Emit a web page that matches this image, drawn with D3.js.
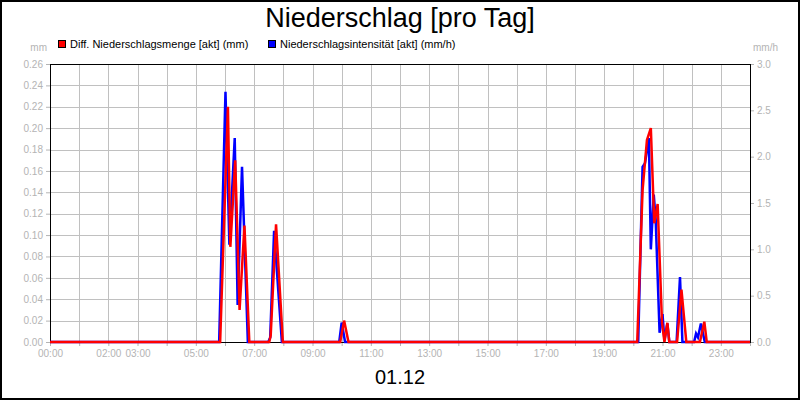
<!DOCTYPE html>
<html>
<head>
<meta charset="utf-8">
<script src="https://cdn.jsdelivr.net/npm/d3@7"></script>
<style>
  body { margin: 0; background: #fff; }
  svg { display: block; font-family: "Liberation Sans", Arial, sans-serif; }
</style>
</head>
<body>
<svg id="chart" width="800" height="400"></svg>
<script>
// Niederschlagsintensität (mm/h), right axis
const blueTimes = ["00:00","05:48","06:01","06:09","06:20","06:26","06:35","06:47",
    "07:29","07:33","07:41","07:57","09:55","10:00","10:07",
    "20:10","20:19","20:24","20:32","20:36","20:42","20:46","20:54","21:00","21:04","21:10","21:14",
    "21:29","21:36","21:41","22:05","22:09","22:13","22:19","22:27","24:00"];
const blueValues = [0,0,2.70,1.05,2.20,0.40,1.89,0,
    0,0.05,1.20,0,0,0.21,0,
    0,1.89,1.93,2.20,1.00,1.59,1.32,0.10,0.30,0.02,0.20,0,
    0,0.70,0,0,0.09,0.05,0.20,0,0];

// Diff. Niederschlagsmenge (mm), left axis
const redTimes = ["00:00","05:50","06:06","06:11","06:21","06:30","06:40","06:50",
    "07:31","07:34","07:45","07:59","09:57","10:05","10:14",
    "20:08","20:19","20:28","20:36","20:43","20:50","20:59","21:04","21:10","21:14",
    "21:30","21:39","21:49","22:17","22:26","22:31","24:00"];
const redValues = [0,0,0.22,0.089,0.17,0.03,0.109,0,
    0,0.006,0.11,0,0,0.02,0,
    0,0.142,0.189,0.20,0.111,0.129,0.018,0,0.018,0,
    0,0.049,0,0,0.019,0,0];

const xLabels = ["00:00","02:00","03:00","05:00","07:00","09:00","11:00","13:00",
    "15:00","17:00","19:00","21:00","23:00"];
const leftTicks = [0,0.02,0.04,0.06,0.08,0.10,0.12,0.14,0.16,0.18,0.20,0.22,0.24,0.26];
const rightTicks = [0,0.5,1.0,1.5,2.0,2.5,3.0];

const toMin = s => { const p = s.split(":"); return +p[0] * 60 + +p[1]; };

const svg = d3.select("#chart");
const plotLeft = 50, plotRight = 750, plotTop = 64, plotBottom = 342;
const grey = "#b4b4b4";

const x = d3.scaleLinear().domain([0, 1440]).range([plotLeft, plotRight]);
const yL = d3.scaleLinear().domain([0, 0.26]).range([plotBottom, plotTop]);
const yR = d3.scaleLinear().domain([0, 3]).range([plotBottom, plotTop]);
const crisp = v => Math.round(v) + 0.5;

svg.append("rect").attr("x", 1).attr("y", 1).attr("width", 798).attr("height", 398)
    .attr("fill", "#fff").attr("stroke", "#000").attr("stroke-width", 2);

// title
svg.append("text").attr("x", 400).attr("y", 27).attr("text-anchor", "middle")
    .attr("font-size", "27px").text("Niederschlag [pro Tag]");

// legend
const legend = [
    { color: "#ff0000", label: "Diff. Niederschlagsmenge [akt] (mm)", x: 58 },
    { color: "#0000ff", label: "Niederschlagsintensität [akt] (mm/h)", x: 268 }
];
legend.forEach(d => {
    svg.append("rect").attr("x", d.x + 0.5).attr("y", 40.5).attr("width", 7).attr("height", 7)
        .attr("fill", d.color).attr("stroke", "#000").attr("stroke-width", 1);
    svg.append("text").attr("x", d.x + 12).attr("y", 48).attr("font-size", "11px").text(d.label);
});

// unit labels
svg.append("text").attr("x", 47).attr("y", 51).attr("text-anchor", "end")
    .attr("font-size", "10px").attr("fill", grey).text("mm");
svg.append("text").attr("x", 753).attr("y", 51)
    .attr("font-size", "10px").attr("fill", grey).text("mm/h");

// grid
const hours = d3.range(0, 1441, 60);
svg.append("g").selectAll("line").data(hours.slice(1, -1)).join("line")
    .attr("x1", d => crisp(x(d))).attr("x2", d => crisp(x(d))).attr("y1", plotTop).attr("y2", plotBottom)
    .attr("stroke", "#c0c0c0").attr("stroke-width", 1);
svg.append("g").selectAll("line").data(leftTicks.slice(1, -1)).join("line")
    .attr("x1", plotLeft).attr("x2", plotRight)
    .attr("y1", d => crisp(yL(d))).attr("y2", d => crisp(yL(d)))
    .attr("stroke", "#c0c0c0").attr("stroke-width", 1);

// axes
function styleAxis(g) {
    g.select(".domain").remove();
    g.selectAll(".tick line").attr("stroke", grey);
    g.selectAll(".tick text").attr("fill", grey).attr("font-size", "10px")
        .attr("font-family", "'Liberation Sans', Arial, sans-serif");
}
svg.append("g").attr("transform", `translate(${plotLeft},0)`)
    .call(d3.axisLeft(yL).tickValues(leftTicks).tickFormat(d3.format(".2f")).tickSize(4).tickPadding(3))
    .call(styleAxis);
svg.append("g").attr("transform", `translate(${plotRight},0)`)
    .call(d3.axisRight(yR).tickValues(rightTicks).tickFormat(d3.format(".1f")).tickSize(4).tickPadding(3))
    .call(styleAxis);
svg.append("g").attr("transform", `translate(0,${plotBottom})`)
    .call(d3.axisBottom(x).tickValues(hours).tickSize(4).tickPadding(4)
        .tickFormat(d => {
            const s = String(Math.floor(d / 60)).padStart(2, "0") + ":00";
            return xLabels.includes(s) ? s : "";
        }))
    .call(styleAxis);

// frame
svg.append("rect").attr("x", plotLeft + 0.5).attr("y", plotTop + 0.5)
    .attr("width", plotRight - plotLeft).attr("height", plotBottom - plotTop)
    .attr("fill", "none").attr("stroke", "#000").attr("stroke-width", 1);

// series
const line = (times, yScale) => d3.line()
    .x((d, i) => x(toMin(times[i])))
    .y(d => yScale(d));

svg.append("path").datum(blueValues)
    .attr("d", line(blueTimes, yR))
    .attr("fill", "none").attr("stroke", "#0000ff").attr("stroke-width", 2.5);
svg.append("path").datum(redValues)
    .attr("d", line(redTimes, yL))
    .attr("fill", "none").attr("stroke", "#ff0000").attr("stroke-width", 2.5);

// date
svg.append("text").attr("x", 400).attr("y", 384).attr("text-anchor", "middle")
    .attr("font-size", "20px").text("01.12");
</script>
</body>
</html>
